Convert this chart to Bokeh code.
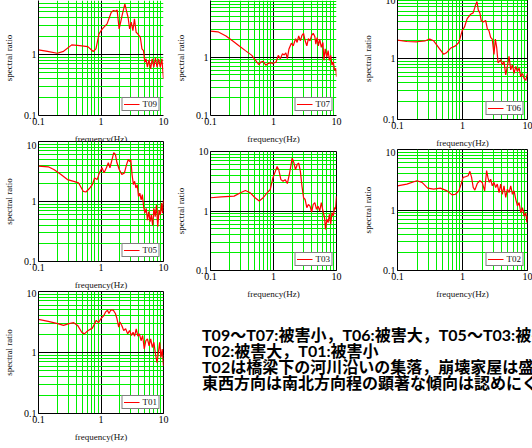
from bokeh.plotting import figure
from bokeh.layouts import row, column
from bokeh.models import Range1d, FixedTicker, CustomJSTickFormatter, Div
from bokeh.embed import file_html
from bokeh.resources import INLINE

# ---- spectral ratio curves (frequency in Hz, ratio) ----
T09_freq = [0.1, 0.139, 0.199, 0.252, 0.34, 0.457, 0.615, 0.75, 0.83, 0.93, 1.05, 1.25, 1.46, 1.59, 1.73,
            1.81, 1.95, 2.09, 2.19, 2.41, 2.55, 2.71, 2.87, 3.05, 3.24, 3.43, 3.65, 3.87, 4.26, 4.52,
            4.79, 5.02, 5.27, 5.52, 5.86, 6.22, 6.6, 7.0, 7.43, 7.89, 8.37, 8.88, 9.42, 10.0]
T09_ratio = [1.19, 1.13, 1.05, 1.13, 1.44, 1.40, 1.35, 1.12, 1.24, 2.18, 2.63, 3.18, 4.94, 5.27, 5.13,
             5.4, 2.63, 3.61, 4.5, 6.77, 5.27, 4.09, 2.63, 3.39, 2.47, 3.84, 2.32, 2.18, 1.92, 1.24,
             1.16, 0.75, 0.85, 0.62, 0.82, 0.58, 0.85, 0.62, 0.88, 0.62, 0.85, 0.62, 0.85, 0.4]

T07_freq = [0.1, 0.131, 0.176, 0.223, 0.283, 0.358, 0.453, 0.541, 0.587, 0.631, 0.685, 0.753, 0.818, 0.9, 0.98,
            1.1, 1.19, 1.28, 1.39, 1.48, 1.57, 1.66, 1.76, 1.92, 2.06, 2.24, 2.37, 2.51, 2.67, 2.83,
            3.0, 3.18, 3.38, 3.58, 3.8, 4.03, 4.27, 4.53, 4.7, 4.92, 5.16, 5.41, 5.74, 6.09, 6.31,
            6.62, 7.02, 7.36, 7.72, 8.09, 8.47, 8.89, 9.31, 9.77, 10.0]
T07_ratio = [2.78, 2.71, 2.30, 1.9, 1.56, 1.29, 1.07, 0.825, 0.745, 0.825, 0.847, 0.726, 0.774, 0.804, 0.774,
             0.825, 1.07, 0.94, 1.14, 1.09, 1.18, 0.94, 1.38, 1.73, 1.56, 2.07, 1.78, 2.3, 1.9, 2.36,
             2.55, 1.9, 1.56, 2.07, 1.9, 2.36, 2.55, 2.24, 1.67, 2.15, 1.56, 2.02, 1.47, 1.78, 0.88,
             1.38, 1.0, 1.29, 0.88, 1.07, 0.73, 0.825, 0.6, 0.64, 0.46]

T06_freq = [0.1, 0.139, 0.199, 0.268, 0.313, 0.36, 0.43, 0.514, 0.566, 0.652, 0.779, 0.877, 0.99, 1.07, 1.18,
            1.33, 1.46, 1.59, 1.67, 1.75, 1.85, 1.94, 2.09, 2.27, 2.41, 2.55, 2.71, 2.87, 3.05, 3.2,
            3.36, 3.52, 3.69, 3.87, 4.1, 4.35, 4.62, 4.9, 5.2, 5.52, 5.86, 6.22, 6.6, 7.0, 7.43,
            7.89, 8.37, 8.88, 9.42, 10.0]
T06_ratio = [2.0, 1.9, 1.88, 1.95, 2.08, 1.95, 1.51, 1.17, 1.24, 1.47, 1.61, 1.83, 2.87, 3.26, 4.5,
             5.3, 5.6, 7.55, 8.6, 6.2, 5.6, 4.2, 3.96, 4.2, 3.06, 2.87, 2.22, 2.08, 1.17, 2.08,
             1.51, 0.85, 0.9, 0.96, 0.79, 0.9, 0.54, 0.74, 1.09, 0.65, 0.79, 0.57, 0.74, 0.61, 0.70,
             0.5, 0.57, 0.47, 0.44, 0.57]

T05_freq = [0.1, 0.143, 0.176, 0.229, 0.29, 0.366, 0.438, 0.522, 0.574, 0.646, 0.727, 0.79, 0.868, 0.942, 1.04,
            1.12, 1.22, 1.31, 1.39, 1.48, 1.6, 1.7, 1.8, 1.96, 2.15, 2.37, 2.57, 2.73, 2.9, 3.0,
            3.14, 3.3, 3.45, 3.62, 3.8, 3.98, 4.18, 4.38, 4.59, 4.81, 5.04, 5.29, 5.54, 5.81, 6.09,
            6.38, 6.7, 7.02, 7.36, 7.72, 8.09, 8.48, 8.89, 9.32, 9.66, 10.0]
T05_ratio = [3.89, 3.79, 3.42, 2.81, 2.32, 2.17, 2.04, 1.47, 1.44, 1.63, 1.91, 2.47, 2.32, 3.0, 3.65,
             3.0, 3.65, 4.42, 3.65, 4.72, 6.5, 6.1, 4.42, 3.42, 2.81, 3.0, 4.15, 5.0, 4.6, 5.0,
             2.81, 1.91, 2.17, 1.68, 1.91, 1.21, 1.38, 1.07, 1.3, 0.82, 0.64, 0.77, 0.49, 0.68, 0.46,
             0.6, 0.4, 0.77, 0.56, 0.88, 0.38, 0.72, 0.6, 0.94, 0.64, 1.07]

T03_freq = [0.1, 0.148, 0.237, 0.3, 0.358, 0.428, 0.51, 0.594, 0.685, 0.79, 0.889, 0.977, 1.07, 1.14, 1.21,
            1.31, 1.42, 1.53, 1.66, 1.8, 1.98, 2.1, 2.23, 2.37, 2.51, 2.67, 2.83, 3.0, 3.18, 3.38,
            3.58, 3.8, 4.03, 4.27, 4.53, 4.81, 5.1, 5.41, 5.74, 6.09, 6.46, 6.7, 7.02, 7.36, 7.72,
            8.09, 8.48, 8.89, 9.32, 9.66, 10.0]
T03_ratio = [1.67, 1.73, 1.78, 2.02, 2.21, 2.02, 1.67, 1.47, 1.67, 2.02, 2.3, 3.59, 4.64, 5.6, 4.94,
             3.37, 3.16, 3.37, 2.89, 4.35, 7.74, 6.55, 4.94, 6.0, 6.4, 4.64, 2.61, 1.67, 1.56, 1.14,
             1.29, 1.21, 0.96, 1.29, 1.38, 1.07, 1.21, 1.0, 1.38, 1.0, 0.77, 0.49, 0.73, 0.64, 0.88,
             0.6, 0.94, 0.83, 1.14, 1.07, 1.78]

T02_freq = [0.1, 0.139, 0.199, 0.238, 0.291, 0.36, 0.457, 0.58, 0.692, 0.779, 0.877, 0.953, 1.02, 1.11, 1.22,
            1.3, 1.38, 1.46, 1.55, 1.69, 1.85, 2.01, 2.19, 2.35, 2.46, 2.58, 2.71, 2.87, 3.05, 3.24,
            3.43, 3.65, 3.87, 4.1, 4.35, 4.62, 4.91, 5.2, 5.52, 5.86, 6.22, 6.6, 7.0, 7.43, 7.89,
            8.37, 8.88, 9.42, 9.77, 10.0]
T02_ratio = [2.51, 2.68, 3.04, 2.86, 2.3, 2.21, 2.3, 2.07, 1.78, 1.82, 2.07, 2.68, 3.46, 3.55, 3.69,
             4.36, 3.46, 2.36, 2.13, 2.75, 3.04, 2.86, 2.07, 4.47, 3.46, 2.86, 3.24, 2.51, 2.86, 2.36,
             2.68, 1.94, 2.68, 1.82, 2.51, 1.61, 2.21, 1.94, 2.51, 1.82, 2.07, 1.5, 1.17, 1.33, 0.9,
             1.09, 0.79, 0.9, 0.62, 0.79]

T01_freq = [0.1, 0.143, 0.203, 0.251, 0.307, 0.366, 0.423, 0.492, 0.541, 0.624, 0.727, 0.79, 0.838, 0.91, 1.0,
            1.1, 1.19, 1.27, 1.34, 1.43, 1.57, 1.7, 1.8, 1.92, 2.01, 2.15, 2.31, 2.48, 2.67, 2.86,
            3.07, 3.26, 3.45, 3.66, 3.89, 4.12, 4.38, 4.64, 4.92, 5.22, 5.54, 5.88, 6.23, 6.62, 7.02,
            7.44, 7.89, 8.28, 8.68, 9.1, 9.54, 10.0]
T01_ratio = [3.5, 3.24, 2.97, 2.78, 2.97, 3.08, 2.78, 2.15, 2.02, 2.3, 2.51, 2.97, 3.37, 3.08, 3.59,
             3.98, 4.64, 4.94, 4.36, 4.94, 4.94, 4.36, 3.59, 2.61, 3.16, 2.78, 2.3, 2.45, 2.02, 2.3,
             1.9, 2.15, 1.85, 2.45, 1.85, 2.02, 1.56, 1.9, 1.14, 1.56, 1.67, 1.29, 1.67, 1.21, 1.47,
             0.94, 0.68, 1.0, 1.47, 0.83, 1.14, 0.6]

# ---- axes ----
MAJOR_TICKS = [0.1, 1, 10]
MINOR_TICKS = [0.2, 0.3, 0.4, 0.5, 0.6, 0.7, 0.8, 0.9, 2, 3, 4, 5, 6, 7, 8, 9]
X_LABEL = "frequency(Hz)"
Y_LABEL = "spectral ratio"

# ---- notes ----
NOTE_LINES = [
    "T09～T07:被害小，T06:被害大，T05～T03:被害小，",
    "T02:被害大，T01:被害小",
    "T02は橋梁下の河川沿いの集落，崩壊家屋は盛土上",
    "東西方向は南北方向程の顕著な傾向は認めにくい",
]

SERIF = "Liberation Serif"
GREEN = "#00ee00"


def panel(name, freq, ratio, width, height, left, right, top, bottom,
          y_end=10.0, outline=True, shift=0):
    p = figure(width=width, height=height + shift, x_axis_type="log", y_axis_type="log",
               x_range=Range1d(0.1, 10), y_range=Range1d(0.1, y_end),
               output_backend="svg", toolbar_location=None, title=None,
               min_border_left=left, min_border_right=right,
               min_border_top=top, min_border_bottom=bottom)
    if shift:
        # pull the panel up so that it tucks under the one above it
        p.margin = (-shift, 0, 0, 0)
        p.border_fill_color = None
    else:
        p.border_fill_color = "white"
    p.background_fill_color = "white"
    p.outline_line_color = "black" if outline else None
    p.outline_line_width = 1

    fmt = CustomJSTickFormatter(code="return tick < 1 ? tick.toFixed(1) : tick.toFixed(0);")
    for ax, grid in ((p.xaxis, p.xgrid), (p.yaxis, p.ygrid)):
        tk = FixedTicker(ticks=MAJOR_TICKS, minor_ticks=MINOR_TICKS)
        ax.ticker = tk
        ax.formatter = fmt
        ax.major_tick_line_color = None
        ax.minor_tick_line_color = None
        ax.major_tick_in = 0
        ax.major_tick_out = 0
        ax.minor_tick_in = 0
        ax.minor_tick_out = 0
        ax.axis_line_color = "black"
        ax.major_label_text_font = SERIF
        ax.major_label_text_font_size = "10px"
        ax.major_label_text_color = "black"
        ax.major_label_standoff = 2
        ax.axis_label_text_font = SERIF
        ax.axis_label_text_font_style = "normal"
        ax.axis_label_text_font_size = "9px"
        ax.axis_label_text_color = "#111111"
        grid.ticker = tk
        grid.grid_line_color = "black"
        grid.grid_line_width = 1
        grid.grid_line_alpha = 1
        grid.minor_grid_line_color = GREEN
        grid.minor_grid_line_width = 1

    p.xaxis.axis_label = X_LABEL
    p.xaxis.axis_label_standoff = 6
    p.yaxis.axis_label = Y_LABEL
    p.yaxis.axis_label_standoff = 7

    p.line(freq, ratio, line_color="red", line_width=1.2, legend_label=name)
    lg = p.legend[0]
    lg.location = "bottom_right"
    lg.border_line_color = "black"
    lg.border_line_width = 1.5
    lg.background_fill_color = "white"
    lg.background_fill_alpha = 1
    lg.label_text_font = SERIF
    lg.label_text_font_size = "9px"
    lg.label_text_color = "#111111"
    lg.glyph_width = 16
    lg.glyph_height = 8
    lg.label_width = 0
    lg.label_height = 0
    lg.label_standoff = 3
    lg.padding = 1
    lg.margin = 4
    lg.spacing = 0
    return p


p09 = panel("T09", T09_freq, T09_ratio, 172, 146, 37, 5, 0, 31, y_end=7.7, outline=False)
p05 = panel("T05", T05_freq, T05_ratio, 172, 146, 33, 9, 0, 28, shift=5)
p01 = panel("T01", T01_freq, T01_ratio, 172, 156, 33, 9, 2, 35, shift=3)

p07 = panel("T07", T07_freq, T07_ratio, 173, 146, 35, 8, 0, 28, y_end=9.3, outline=False)
p03 = panel("T03", T03_freq, T03_ratio, 173, 155, 34, 9, 5, 30)

p06 = panel("T06", T06_freq, T06_ratio, 187, 150, 52, 5, 1, 30, shift=4)
p02 = panel("T02", T02_freq, T02_ratio, 187, 151, 52, 5, 1, 30, shift=2)

note_html = (
    '<div style="padding:26px 0 0 30px; font-family:Lato, \'Noto Sans CJK JP\', sans-serif; '
    'font-weight:bold; font-size:16px; line-height:16px; white-space:nowrap; color:#000;">'
    + "<br>".join(NOTE_LINES) + "</div>"
)
notes = Div(text=note_html, width=360, height=147,
            styles={"overflow": "hidden", "margin": "0", "padding": "0"})

layout = row(
    column(p09, p05, p01),
    column(row(column(p07, p03), column(p06, p02)), notes),
)

with open("out.html", "w") as f:
    f.write(file_html(layout, INLINE))
